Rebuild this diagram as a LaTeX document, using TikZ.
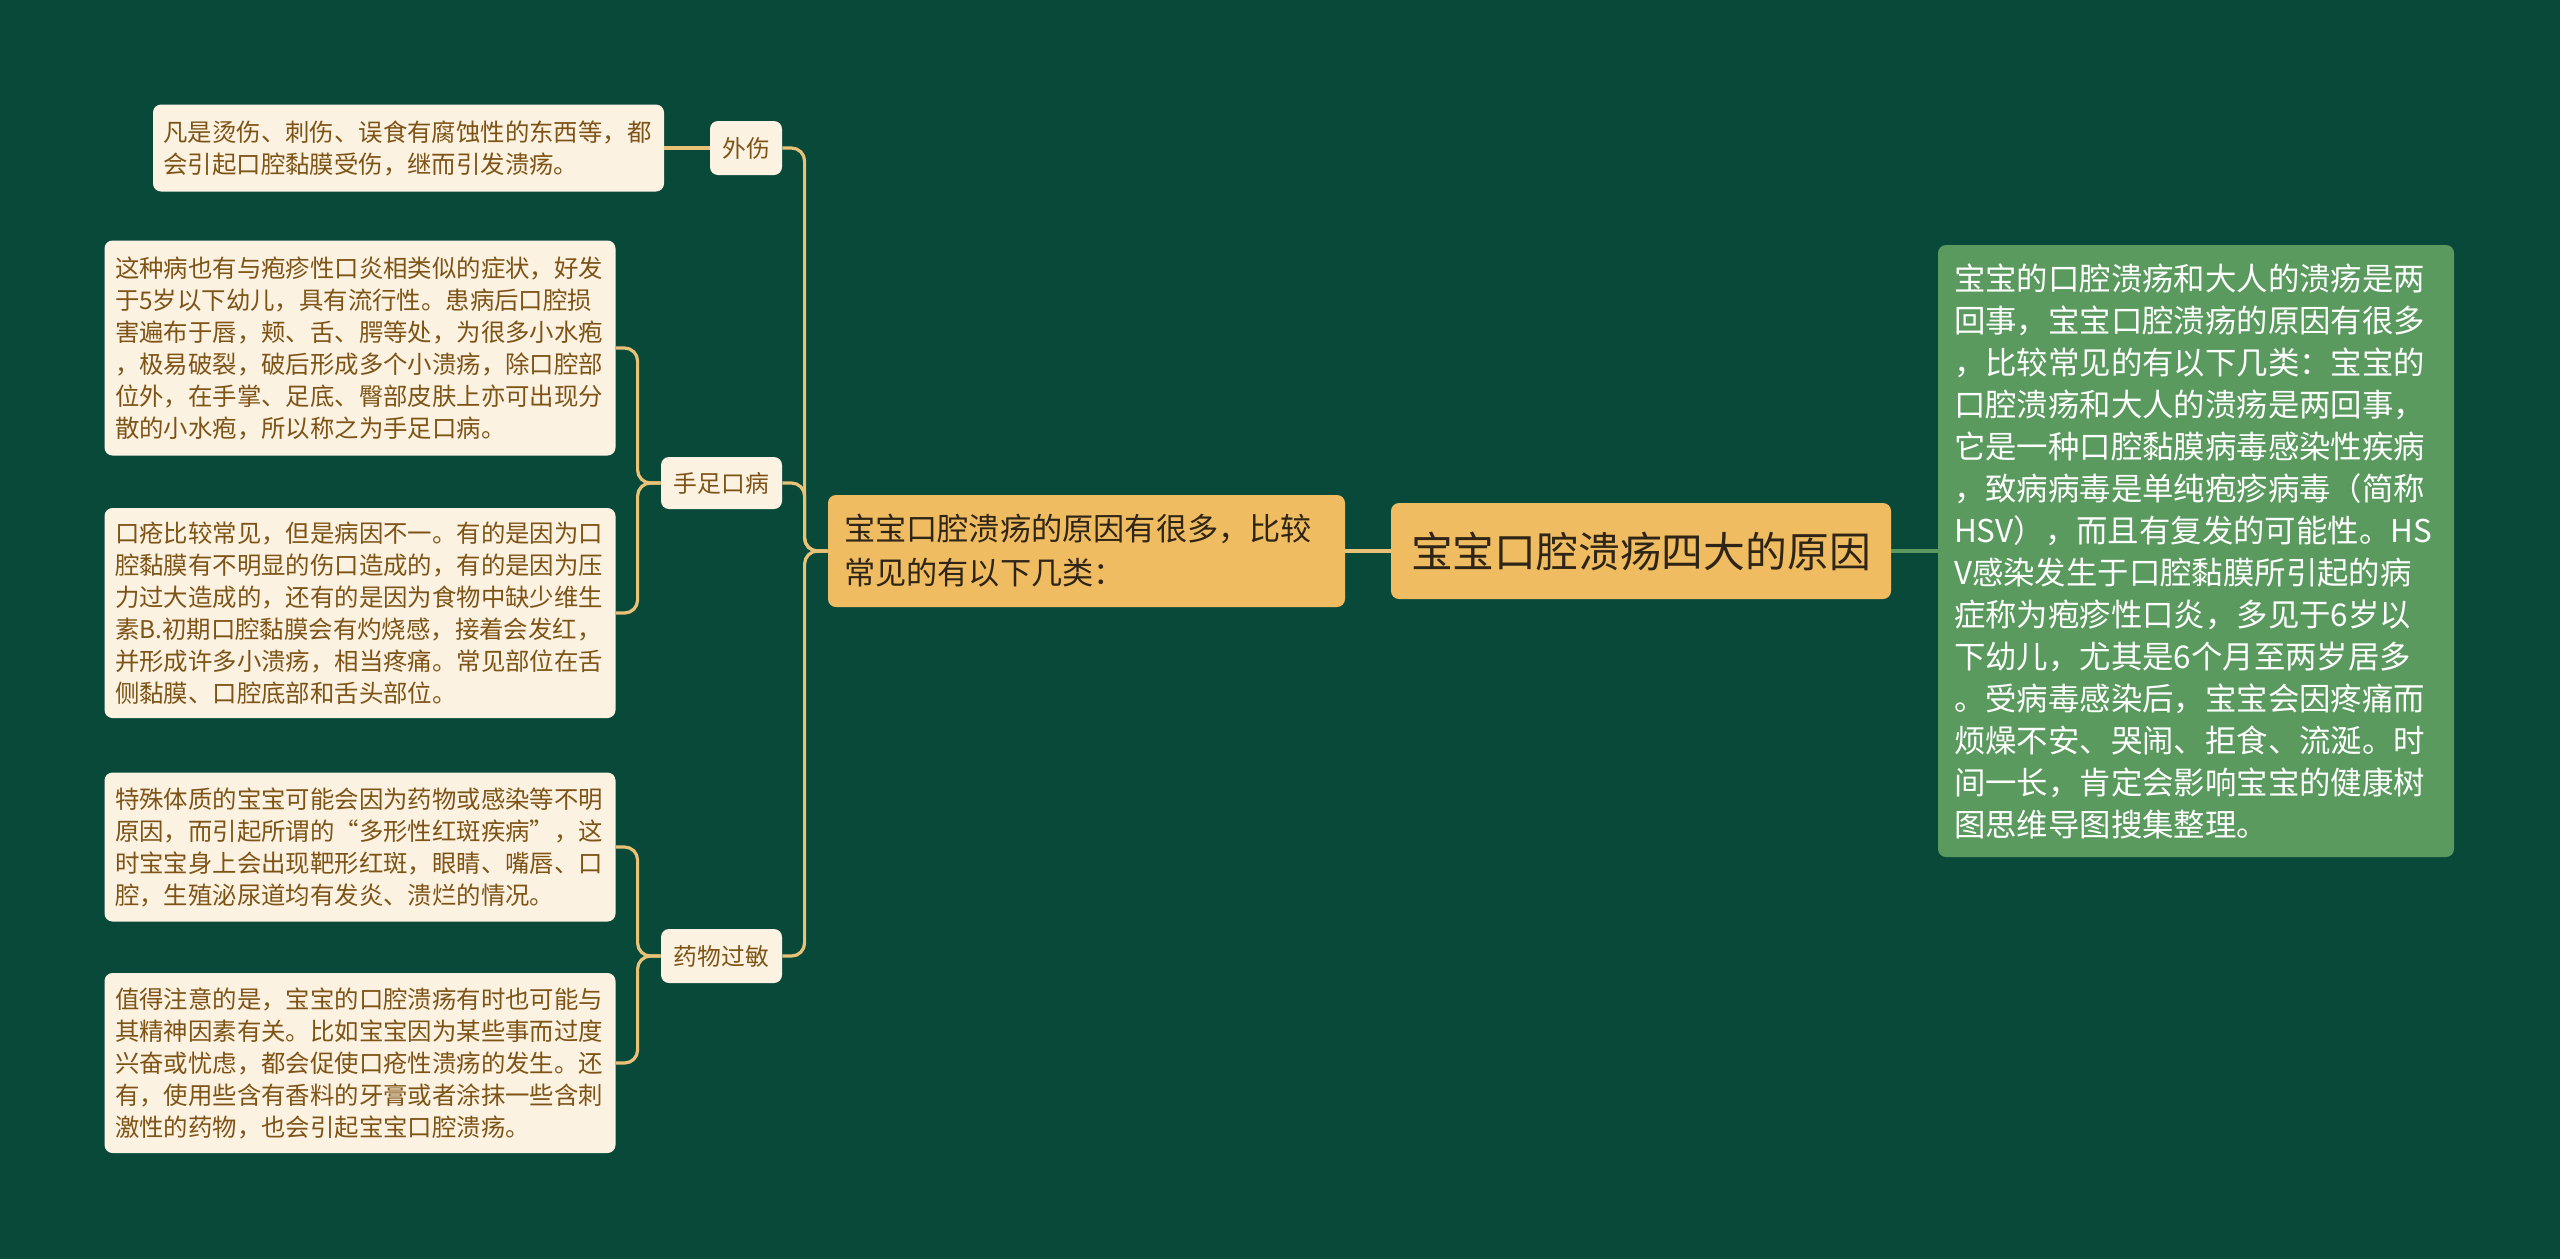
\documentclass[tikz,border=0pt]{standalone}
\usepackage{fontspec}
\newfontfamily\cjk{Noto Sans CJK SC}
\definecolor{bg}{HTML}{08493A}
\definecolor{cream}{HTML}{FCF2E2}
\definecolor{leaftext}{HTML}{7E5416}
\definecolor{gold}{HTML}{F0BC62}
\definecolor{goldline}{HTML}{E9C278}
\definecolor{greenbox}{HTML}{5A9A5E}
\definecolor{darktext}{HTML}{2E2516}
\begin{document}
\begin{tikzpicture}[x=0.5pt,y=-0.5pt,
  leaf/.style={fill=cream, rounded corners=4pt, text=leaftext,
    font=\cjk\fontsize{12.2}{16}\selectfont, align=left, text width=245pt,
    inner xsep=5.25pt, inner ysep=0pt, anchor=center},
  tag/.style={fill=cream, rounded corners=4pt, text=leaftext,
    font=\cjk\fontsize{11.9}{14}\selectfont, inner sep=0pt, anchor=center},
  lvlone/.style={fill=gold, rounded corners=4pt, text=darktext,
    font=\cjk\fontsize{15.6}{22}\selectfont, align=left, text width=242.5pt,
    inner xsep=8pt, inner ysep=0pt, minimum height=56pt, anchor=center},
  rootbox/.style={fill=gold, rounded corners=4pt, text=darktext,
    font=\cjk\fontsize{20.9}{24}\selectfont, inner sep=0pt,
    minimum width=250pt, minimum height=48pt, anchor=center},
  notebox/.style={fill=greenbox, rounded corners=4pt, text=white,
    font=\cjk\fontsize{15.7}{21}\selectfont, align=left, text width=242pt,
    inner xsep=8pt, inner ysep=0pt, minimum height=306pt, anchor=center},
  conn/.style={draw=goldline, line width=1.6pt, rounded corners=6.5pt},
  gconn/.style={draw=greenbox, line width=1.6pt}]
\fill[bg] (0,0) rectangle (2560,1259);
\useasboundingbox (0,0) rectangle (2560,1259);

% main nodes
\node[rootbox] (root) at (1641,551) {宝宝口腔溃疡四大的原因};
\node[lvlone] (lvl) at (1086.5,551) {宝宝口腔溃疡的原因有很多，比较\\常见的有以下几类：};
\node[notebox] (note) at (2196,551) {宝宝的口腔溃疡和大人的溃疡是两\\回事，宝宝口腔溃疡的原因有很多\\，比较常见的有以下几类：宝宝的\\口腔溃疡和大人的溃疡是两回事，\\它是一种口腔黏膜病毒感染性疾病\\，致病病毒是单纯疱疹病毒（简称\\HSV），而且有复发的可能性。HS\\V感染发生于口腔黏膜所引起的病\\症称为疱疹性口炎，多见于6岁以\\下幼儿，尤其是6个月至两岁居多\\。受病毒感染后，宝宝会因疼痛而\\烦燥不安、哭闹、拒食、流涎。时\\间一长，肯定会影响宝宝的健康树\\图思维导图搜集整理。};

% categories
\node[tag, minimum width=36pt, minimum height=27pt] (ws) at (746,148) {外伤};
\node[tag, minimum width=60.5pt, minimum height=26pt] (sz) at (721.5,483) {手足口病};
\node[tag, minimum width=60.5pt, minimum height=27pt] (yw) at (721.5,956) {药物过敏};

% leaves
\node[leaf, minimum height=43.5pt] (l1) at (408.5,148) {凡是烫伤、刺伤、误食有腐蚀性的东西等，都\\会引起口腔黏膜受伤，继而引发溃疡。};
\node[leaf, minimum height=107.5pt] (l2a) at (360,348) {这种病也有与疱疹性口炎相类似的症状，好发\\于5岁以下幼儿，具有流行性。患病后口腔损\\害遍布于唇，颊、舌、腭等处，为很多小水疱\\，极易破裂，破后形成多个小溃疡，除口腔部\\位外，在手掌、足底、臀部皮肤上亦可出现分\\散的小水疱，所以称之为手足口病。};
\node[leaf, minimum height=105pt] (l2b) at (360,613) {口疮比较常见，但是病因不一。有的是因为口\\腔黏膜有不明显的伤口造成的，有的是因为压\\力过大造成的，还有的是因为食物中缺少维生\\素B.初期口腔黏膜会有灼烧感，接着会发红，\\并形成许多小溃疡，相当疼痛。常见部位在舌\\侧黏膜、口腔底部和舌头部位。};
\node[leaf, minimum height=74.5pt] (l3a) at (360,847) {特殊体质的宝宝可能会因为药物或感染等不明\\原因，而引起所谓的“多形性红斑疾病”，这\\时宝宝身上会出现靶形红斑，眼睛、嘴唇、口\\腔，生殖泌尿道均有发炎、溃烂的情况。};
\node[leaf, minimum height=90pt] (l3b) at (360,1063) {值得注意的是，宝宝的口腔溃疡有时也可能与\\其精神因素有关。比如宝宝因为某些事而过度\\兴奋或忧虑，都会促使口疮性溃疡的发生。还\\有，使用些含有香料的牙膏或者涂抹一些含刺\\激性的药物，也会引起宝宝口腔溃疡。};

% connectors
\draw[conn] (lvl.east) -- (root.west);
\draw[gconn] (root.east) -- (note.west);
\draw[conn] (lvl.west) -- ++(-23,0) |- (ws.east);
\draw[conn] (lvl.west) -- ++(-23,0) |- (sz.east);
\draw[conn] (lvl.west) -- ++(-23,0) |- (yw.east);
\draw[conn] (ws.west) -- (l1.east);
\draw[conn] (sz.west) -- ++(-23,0) |- (l2a.east);
\draw[conn] (sz.west) -- ++(-23,0) |- (l2b.east);
\draw[conn] (yw.west) -- ++(-23,0) |- (l3a.east);
\draw[conn] (yw.west) -- ++(-23,0) |- (l3b.east);
\end{tikzpicture}
\end{document}
